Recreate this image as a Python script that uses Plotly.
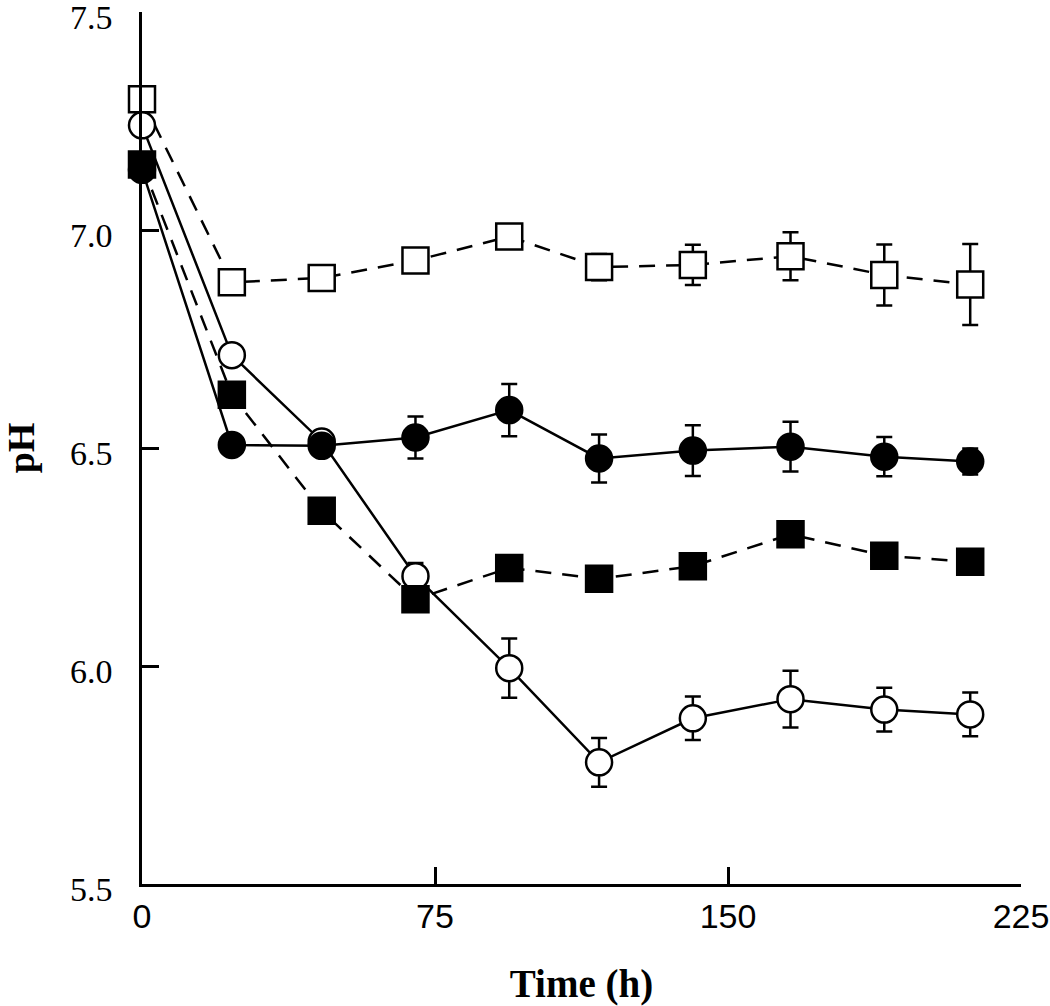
import plotly.graph_objects as go

time_h = [0, 23, 46, 70, 94, 117, 141, 166, 190, 212]

open_square = [7.30, 6.88, 6.89, 6.93, 6.985, 6.915, 6.92, 6.94, 6.897, 6.875]
open_square_err = [0, 0, 0, 0, 0, 0.03, 0.046, 0.055, 0.07, 0.093]

open_circle = [7.24, 6.713, 6.515, 6.206, 5.995, 5.779, 5.88, 5.924, 5.90, 5.889]
open_circle_err = [0, 0, 0.02, 0.03, 0.068, 0.056, 0.05, 0.065, 0.05, 0.05]

filled_square = [7.15, 6.622, 6.356, 6.153, 6.225, 6.20, 6.229, 6.302, 6.253, 6.239]
filled_square_err = [0, 0, 0, 0, 0, 0, 0, 0, 0, 0]

filled_circle = [7.138, 6.507, 6.505, 6.524, 6.587, 6.476, 6.494, 6.503, 6.48, 6.469]
filled_circle_err = [0, 0, 0, 0.048, 0.06, 0.055, 0.058, 0.057, 0.045, 0.03]

x_ticks = [0, 75, 150, 225]
y_ticks = [5.5, 6.0, 6.5, 7.0, 7.5]

fig = go.Figure()

def add(y, err, symbol, fill, dash):
    fig.add_trace(go.Scatter(
        x=time_h, y=y, mode="lines+markers",
        line=dict(color="black", width=2.5, dash=dash),
        marker=dict(symbol=symbol, size=26, color=fill,
                    line=dict(color="black", width=2.5)),
        error_y=dict(type="data", array=err, visible=True,
                     color="black", thickness=2.5, width=8),
        cliponaxis=False, showlegend=False,
    ))

add(open_square, open_square_err, "square", "white", "16px,11px")
add(open_circle, open_circle_err, "circle", "white", "solid")
add(filled_square, filled_square_err, "square", "black", "16px,11px")
add(filled_circle, filled_circle_err, "circle", "black", "solid")

fig.update_layout(
    width=1050, height=1006,
    margin=dict(l=142, r=29, t=12, b=122),
    plot_bgcolor="white", paper_bgcolor="white",
    xaxis=dict(
        range=[0, 225], tickvals=x_ticks, ticktext=[str(v) for v in x_ticks],
        showgrid=False, zeroline=False, showline=True, linecolor="black", linewidth=2.5,
        ticks="inside", ticklen=17, tickwidth=2.5, tickcolor="black",
        tickfont=dict(family="Liberation Sans, Arial", size=34, color="black"),
        ticklabelstandoff=0, automargin=False, ticklabeloverflow="allow",
        title=dict(text="<b>Time (h)</b>", standoff=44,
                   font=dict(family="Liberation Serif, Times New Roman", size=39, color="black")),
    ),
    yaxis=dict(
        range=[5.5, 7.5], tickvals=y_ticks, ticktext=["%.1f" % v for v in y_ticks],
        showgrid=False, zeroline=False, showline=True, linecolor="black", linewidth=2.5,
        ticks="inside", ticklen=17, tickwidth=2.5, tickcolor="black",
        tickfont=dict(family="Liberation Serif, Times New Roman", size=34, color="black"),
        ticklabelstandoff=20, ticklabelshift=5, automargin=False, ticklabeloverflow="allow",
        title=dict(text="<b>pH</b>", standoff=55,
                   font=dict(family="Liberation Serif, Times New Roman", size=38, color="black")),
    ),
)

# remove the page's default body margin so the figure fills the window exactly
fig.write_html("out.html",
               config={"displayModeBar": False},
               post_script="document.body.style.margin='0';document.body.style.overflow='hidden';")
